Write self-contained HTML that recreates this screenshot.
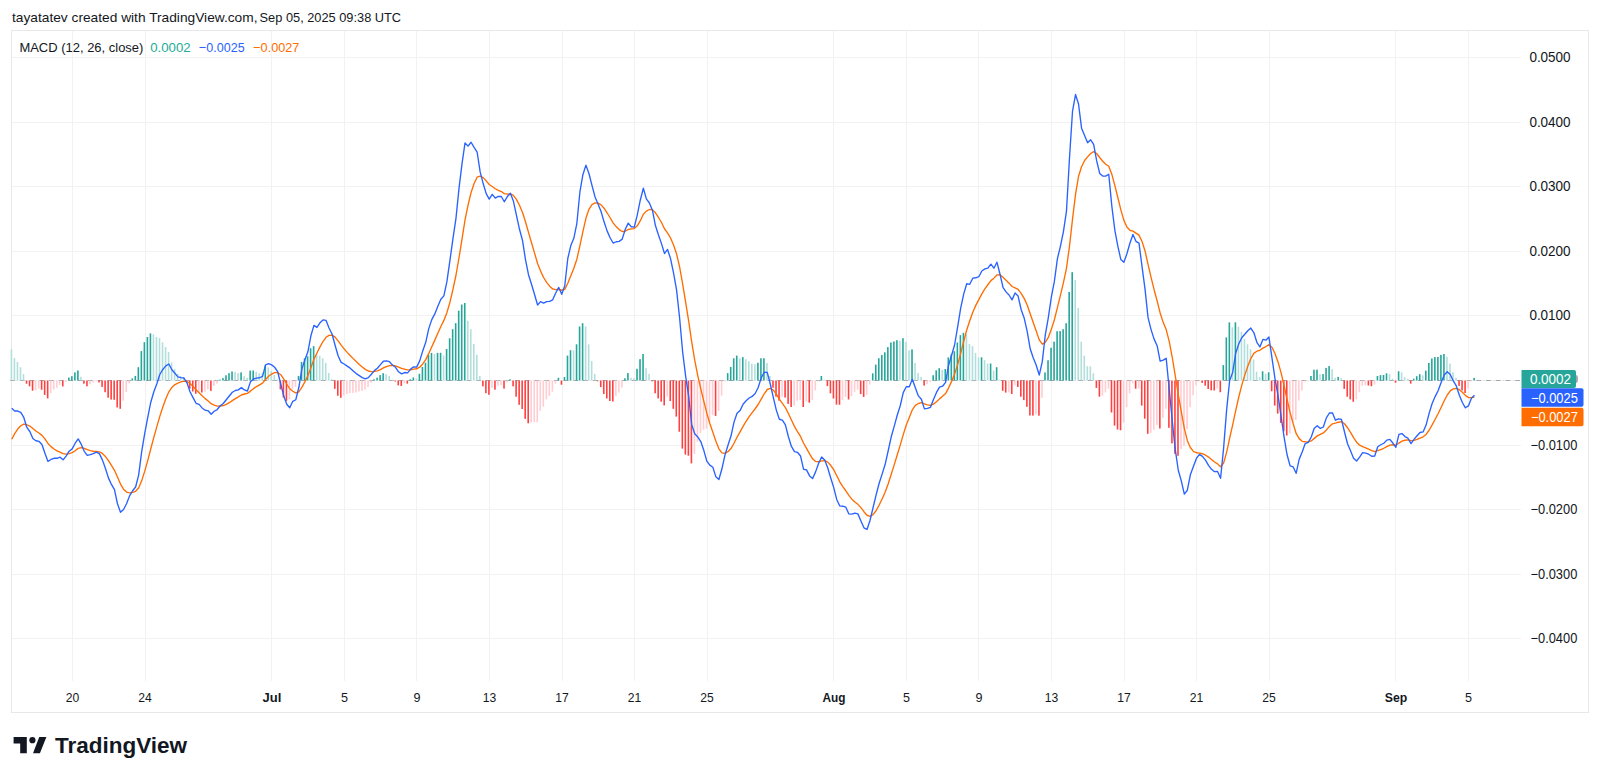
<!DOCTYPE html>
<html><head><meta charset="utf-8"><style>
html,body{margin:0;padding:0;background:#fff;width:1600px;height:779px;overflow:hidden}
svg{display:block;font-family:"Liberation Sans",sans-serif}
</style></head><body>
<svg width="1600" height="779" viewBox="0 0 1600 779">
<rect x="0" y="0" width="1600" height="779" fill="#ffffff"/>
<g font-size="13.3" fill="#131722"><text x="12" y="22" textLength="245.5" lengthAdjust="spacingAndGlyphs">tayatatev created with TradingView.com,</text><text x="259.6" y="22" textLength="141.5" lengthAdjust="spacingAndGlyphs">Sep 05, 2025 09:38 UTC</text></g>
<g stroke="#f2f2f2" stroke-width="1"><line x1="11" y1="57.5" x2="1521" y2="57.5"/><line x1="11" y1="122.5" x2="1521" y2="122.5"/><line x1="11" y1="186.5" x2="1521" y2="186.5"/><line x1="11" y1="251.5" x2="1521" y2="251.5"/><line x1="11" y1="315.5" x2="1521" y2="315.5"/><line x1="11" y1="380.5" x2="1521" y2="380.5"/><line x1="11" y1="445.5" x2="1521" y2="445.5"/><line x1="11" y1="509.5" x2="1521" y2="509.5"/><line x1="11" y1="574.5" x2="1521" y2="574.5"/><line x1="11" y1="638.5" x2="1521" y2="638.5"/><line x1="72.5" y1="30" x2="72.5" y2="681"/><line x1="145.5" y1="30" x2="145.5" y2="681"/><line x1="271.5" y1="30" x2="271.5" y2="681"/><line x1="344.5" y1="30" x2="344.5" y2="681"/><line x1="416.5" y1="30" x2="416.5" y2="681"/><line x1="489.5" y1="30" x2="489.5" y2="681"/><line x1="562.5" y1="30" x2="562.5" y2="681"/><line x1="634.5" y1="30" x2="634.5" y2="681"/><line x1="707.5" y1="30" x2="707.5" y2="681"/><line x1="833.5" y1="30" x2="833.5" y2="681"/><line x1="906.5" y1="30" x2="906.5" y2="681"/><line x1="978.5" y1="30" x2="978.5" y2="681"/><line x1="1051.5" y1="30" x2="1051.5" y2="681"/><line x1="1124.5" y1="30" x2="1124.5" y2="681"/><line x1="1196.5" y1="30" x2="1196.5" y2="681"/><line x1="1269.5" y1="30" x2="1269.5" y2="681"/><line x1="1395.5" y1="30" x2="1395.5" y2="681"/><line x1="1468.5" y1="30" x2="1468.5" y2="681"/></g>
<rect x="11.5" y="30.5" width="1577" height="682" fill="none" stroke="#e8e8e8" stroke-width="1"/>
<line x1="10.2" y1="380.5" x2="1521" y2="380.5" stroke="#a3a6ad" stroke-width="1" stroke-dasharray="4.7 5.01"/>
<g><rect x="10.61" y="349.40" width="1.6" height="31.10" fill="#b2dfdb"/><rect x="13.63" y="358.10" width="1.6" height="22.40" fill="#b2dfdb"/><rect x="16.65" y="362.00" width="1.6" height="18.50" fill="#b2dfdb"/><rect x="19.67" y="367.20" width="1.6" height="13.30" fill="#b2dfdb"/><rect x="22.69" y="374.10" width="1.6" height="6.40" fill="#b2dfdb"/><rect x="25.72" y="380.50" width="1.6" height="3.20" fill="#ff4040"/><rect x="28.74" y="380.50" width="1.6" height="5.80" fill="#ff4040"/><rect x="31.76" y="380.50" width="1.6" height="10.20" fill="#ff4040"/><rect x="34.78" y="380.50" width="1.6" height="10.00" fill="#ffcdd2"/><rect x="37.81" y="380.50" width="1.6" height="8.10" fill="#ffcdd2"/><rect x="40.83" y="380.50" width="1.6" height="9.20" fill="#ff4040"/><rect x="43.85" y="380.50" width="1.6" height="14.40" fill="#ff4040"/><rect x="46.87" y="380.50" width="1.6" height="17.90" fill="#ff4040"/><rect x="49.89" y="380.50" width="1.6" height="12.50" fill="#ffcdd2"/><rect x="52.92" y="380.50" width="1.6" height="9.00" fill="#ffcdd2"/><rect x="55.94" y="380.50" width="1.6" height="7.30" fill="#ffcdd2"/><rect x="58.96" y="380.50" width="1.6" height="4.40" fill="#ffcdd2"/><rect x="61.98" y="380.50" width="1.6" height="5.90" fill="#ff4040"/><rect x="65.01" y="380.50" width="1.6" height="1.50" fill="#ffcdd2"/><rect x="68.03" y="377.60" width="1.6" height="2.90" fill="#26a69a"/><rect x="71.05" y="376.20" width="1.6" height="4.30" fill="#26a69a"/><rect x="74.07" y="372.40" width="1.6" height="8.10" fill="#26a69a"/><rect x="77.09" y="370.50" width="1.6" height="10.00" fill="#26a69a"/><rect x="80.12" y="376.80" width="1.6" height="3.70" fill="#b2dfdb"/><rect x="83.14" y="380.50" width="1.6" height="3.20" fill="#ff4040"/><rect x="86.16" y="380.50" width="1.6" height="5.80" fill="#ff4040"/><rect x="89.18" y="380.50" width="1.6" height="3.80" fill="#ffcdd2"/><rect x="92.21" y="380.50" width="1.6" height="2.10" fill="#ffcdd2"/><rect x="95.23" y="380.50" width="1.6" height="0.80" fill="#ffcdd2"/><rect x="98.25" y="380.50" width="1.6" height="2.00" fill="#ff4040"/><rect x="101.27" y="380.50" width="1.6" height="6.40" fill="#ff4040"/><rect x="104.29" y="380.50" width="1.6" height="11.70" fill="#ff4040"/><rect x="107.32" y="380.50" width="1.6" height="17.20" fill="#ff4040"/><rect x="110.34" y="380.50" width="1.6" height="19.10" fill="#ff4040"/><rect x="113.36" y="380.50" width="1.6" height="19.30" fill="#ff4040"/><rect x="116.38" y="380.50" width="1.6" height="26.90" fill="#ff4040"/><rect x="119.41" y="380.50" width="1.6" height="28.30" fill="#ff4040"/><rect x="122.43" y="380.50" width="1.6" height="20.20" fill="#ffcdd2"/><rect x="125.45" y="380.50" width="1.6" height="11.50" fill="#ffcdd2"/><rect x="128.47" y="380.50" width="1.6" height="2.90" fill="#ffcdd2"/><rect x="131.49" y="378.40" width="1.6" height="2.10" fill="#26a69a"/><rect x="134.52" y="375.90" width="1.6" height="4.60" fill="#26a69a"/><rect x="137.54" y="367.20" width="1.6" height="13.30" fill="#26a69a"/><rect x="140.56" y="351.10" width="1.6" height="29.40" fill="#26a69a"/><rect x="143.58" y="342.20" width="1.6" height="38.30" fill="#26a69a"/><rect x="146.60" y="337.00" width="1.6" height="43.50" fill="#26a69a"/><rect x="149.63" y="333.40" width="1.6" height="47.10" fill="#26a69a"/><rect x="152.65" y="334.30" width="1.6" height="46.20" fill="#b2dfdb"/><rect x="155.67" y="337.00" width="1.6" height="43.50" fill="#b2dfdb"/><rect x="158.69" y="338.10" width="1.6" height="42.40" fill="#b2dfdb"/><rect x="161.72" y="342.40" width="1.6" height="38.10" fill="#b2dfdb"/><rect x="164.74" y="347.00" width="1.6" height="33.50" fill="#b2dfdb"/><rect x="167.76" y="352.00" width="1.6" height="28.50" fill="#b2dfdb"/><rect x="170.78" y="362.60" width="1.6" height="17.90" fill="#b2dfdb"/><rect x="173.80" y="369.00" width="1.6" height="11.50" fill="#b2dfdb"/><rect x="176.83" y="374.10" width="1.6" height="6.40" fill="#b2dfdb"/><rect x="179.85" y="376.20" width="1.6" height="4.30" fill="#b2dfdb"/><rect x="182.87" y="377.00" width="1.6" height="3.50" fill="#b2dfdb"/><rect x="185.89" y="380.50" width="1.6" height="1.00" fill="#ff4040"/><rect x="188.92" y="380.50" width="1.6" height="8.10" fill="#ff4040"/><rect x="191.94" y="380.50" width="1.6" height="11.00" fill="#ff4040"/><rect x="194.96" y="380.50" width="1.6" height="13.30" fill="#ff4040"/><rect x="197.98" y="380.50" width="1.6" height="11.20" fill="#ffcdd2"/><rect x="201.00" y="380.50" width="1.6" height="12.00" fill="#ff4040"/><rect x="204.03" y="380.50" width="1.6" height="11.20" fill="#ffcdd2"/><rect x="207.05" y="380.50" width="1.6" height="8.90" fill="#ffcdd2"/><rect x="210.07" y="380.50" width="1.6" height="10.40" fill="#ff4040"/><rect x="213.09" y="380.50" width="1.6" height="5.40" fill="#ffcdd2"/><rect x="216.12" y="380.50" width="1.6" height="3.10" fill="#ffcdd2"/><rect x="219.14" y="379.60" width="1.6" height="0.90" fill="#26a69a"/><rect x="222.16" y="378.10" width="1.6" height="2.40" fill="#26a69a"/><rect x="225.18" y="375.30" width="1.6" height="5.20" fill="#26a69a"/><rect x="228.20" y="373.20" width="1.6" height="7.30" fill="#26a69a"/><rect x="231.23" y="371.50" width="1.6" height="9.00" fill="#26a69a"/><rect x="234.25" y="371.80" width="1.6" height="8.70" fill="#b2dfdb"/><rect x="237.27" y="373.20" width="1.6" height="7.30" fill="#b2dfdb"/><rect x="240.29" y="372.40" width="1.6" height="8.10" fill="#26a69a"/><rect x="243.32" y="376.10" width="1.6" height="4.40" fill="#b2dfdb"/><rect x="246.34" y="377.80" width="1.6" height="2.70" fill="#b2dfdb"/><rect x="249.36" y="370.60" width="1.6" height="9.90" fill="#26a69a"/><rect x="252.38" y="370.50" width="1.6" height="10.00" fill="#26a69a"/><rect x="255.40" y="371.80" width="1.6" height="8.70" fill="#b2dfdb"/><rect x="258.43" y="373.20" width="1.6" height="7.30" fill="#b2dfdb"/><rect x="261.45" y="373.30" width="1.6" height="7.20" fill="#b2dfdb"/><rect x="264.47" y="365.50" width="1.6" height="15.00" fill="#26a69a"/><rect x="267.49" y="367.50" width="1.6" height="13.00" fill="#b2dfdb"/><rect x="270.52" y="370.90" width="1.6" height="9.60" fill="#b2dfdb"/><rect x="273.54" y="375.00" width="1.6" height="5.50" fill="#b2dfdb"/><rect x="276.56" y="379.50" width="1.6" height="1.00" fill="#b2dfdb"/><rect x="279.58" y="380.50" width="1.6" height="8.90" fill="#ff4040"/><rect x="282.60" y="380.50" width="1.6" height="17.00" fill="#ff4040"/><rect x="285.63" y="380.50" width="1.6" height="20.40" fill="#ff4040"/><rect x="288.65" y="380.50" width="1.6" height="19.00" fill="#ffcdd2"/><rect x="291.67" y="380.50" width="1.6" height="8.70" fill="#ffcdd2"/><rect x="294.69" y="380.50" width="1.6" height="6.40" fill="#ffcdd2"/><rect x="297.71" y="375.90" width="1.6" height="4.60" fill="#26a69a"/><rect x="300.74" y="362.00" width="1.6" height="18.50" fill="#26a69a"/><rect x="303.76" y="358.30" width="1.6" height="22.20" fill="#26a69a"/><rect x="306.78" y="356.30" width="1.6" height="24.20" fill="#26a69a"/><rect x="309.80" y="348.20" width="1.6" height="32.30" fill="#26a69a"/><rect x="312.83" y="346.10" width="1.6" height="34.40" fill="#26a69a"/><rect x="315.85" y="355.30" width="1.6" height="25.20" fill="#b2dfdb"/><rect x="318.87" y="355.70" width="1.6" height="24.80" fill="#b2dfdb"/><rect x="321.89" y="358.30" width="1.6" height="22.20" fill="#b2dfdb"/><rect x="324.91" y="362.90" width="1.6" height="17.60" fill="#b2dfdb"/><rect x="327.94" y="373.00" width="1.6" height="7.50" fill="#b2dfdb"/><rect x="330.96" y="379.30" width="1.6" height="1.20" fill="#b2dfdb"/><rect x="333.98" y="380.50" width="1.6" height="8.30" fill="#ff4040"/><rect x="337.00" y="380.50" width="1.6" height="15.20" fill="#ff4040"/><rect x="340.03" y="380.50" width="1.6" height="17.30" fill="#ff4040"/><rect x="343.05" y="380.50" width="1.6" height="15.00" fill="#ffcdd2"/><rect x="346.07" y="380.50" width="1.6" height="13.60" fill="#ffcdd2"/><rect x="349.09" y="380.50" width="1.6" height="12.50" fill="#ffcdd2"/><rect x="352.11" y="380.50" width="1.6" height="12.40" fill="#ffcdd2"/><rect x="355.14" y="380.50" width="1.6" height="12.00" fill="#ffcdd2"/><rect x="358.16" y="380.50" width="1.6" height="10.90" fill="#ffcdd2"/><rect x="361.18" y="380.50" width="1.6" height="10.40" fill="#ffcdd2"/><rect x="364.20" y="380.50" width="1.6" height="9.20" fill="#ffcdd2"/><rect x="367.23" y="380.50" width="1.6" height="6.40" fill="#ffcdd2"/><rect x="370.25" y="380.50" width="1.6" height="2.30" fill="#ffcdd2"/><rect x="373.27" y="379.30" width="1.6" height="1.20" fill="#26a69a"/><rect x="376.29" y="377.70" width="1.6" height="2.80" fill="#26a69a"/><rect x="379.31" y="375.10" width="1.6" height="5.40" fill="#26a69a"/><rect x="382.34" y="373.20" width="1.6" height="7.30" fill="#26a69a"/><rect x="385.36" y="374.20" width="1.6" height="6.30" fill="#b2dfdb"/><rect x="388.38" y="376.00" width="1.6" height="4.50" fill="#b2dfdb"/><rect x="391.40" y="379.70" width="1.6" height="0.80" fill="#b2dfdb"/><rect x="394.43" y="380.50" width="1.6" height="1.00" fill="#ff4040"/><rect x="397.45" y="380.50" width="1.6" height="4.90" fill="#ff4040"/><rect x="400.47" y="380.50" width="1.6" height="5.50" fill="#ff4040"/><rect x="403.49" y="380.50" width="1.6" height="3.00" fill="#ffcdd2"/><rect x="406.51" y="380.50" width="1.6" height="3.20" fill="#ff4040"/><rect x="409.54" y="379.30" width="1.6" height="1.20" fill="#26a69a"/><rect x="412.56" y="377.40" width="1.6" height="3.10" fill="#26a69a"/><rect x="415.58" y="378.60" width="1.6" height="1.90" fill="#b2dfdb"/><rect x="418.60" y="373.80" width="1.6" height="6.70" fill="#26a69a"/><rect x="421.63" y="367.00" width="1.6" height="13.50" fill="#26a69a"/><rect x="424.65" y="362.70" width="1.6" height="17.80" fill="#26a69a"/><rect x="427.67" y="355.00" width="1.6" height="25.50" fill="#26a69a"/><rect x="430.69" y="352.90" width="1.6" height="27.60" fill="#26a69a"/><rect x="433.71" y="353.90" width="1.6" height="26.60" fill="#b2dfdb"/><rect x="436.74" y="352.90" width="1.6" height="27.60" fill="#26a69a"/><rect x="439.76" y="352.80" width="1.6" height="27.70" fill="#26a69a"/><rect x="442.78" y="355.50" width="1.6" height="25.00" fill="#b2dfdb"/><rect x="445.80" y="349.00" width="1.6" height="31.50" fill="#26a69a"/><rect x="448.82" y="338.30" width="1.6" height="42.20" fill="#26a69a"/><rect x="451.85" y="329.20" width="1.6" height="51.30" fill="#26a69a"/><rect x="454.87" y="323.20" width="1.6" height="57.30" fill="#26a69a"/><rect x="457.89" y="310.70" width="1.6" height="69.80" fill="#26a69a"/><rect x="460.91" y="304.50" width="1.6" height="76.00" fill="#26a69a"/><rect x="463.94" y="303.00" width="1.6" height="77.50" fill="#26a69a"/><rect x="466.96" y="320.80" width="1.6" height="59.70" fill="#b2dfdb"/><rect x="469.98" y="329.20" width="1.6" height="51.30" fill="#b2dfdb"/><rect x="473.00" y="343.90" width="1.6" height="36.60" fill="#b2dfdb"/><rect x="476.02" y="354.80" width="1.6" height="25.70" fill="#b2dfdb"/><rect x="479.05" y="376.00" width="1.6" height="4.50" fill="#b2dfdb"/><rect x="482.07" y="380.50" width="1.6" height="5.80" fill="#ff4040"/><rect x="485.09" y="380.50" width="1.6" height="12.70" fill="#ff4040"/><rect x="488.11" y="380.50" width="1.6" height="14.30" fill="#ff4040"/><rect x="491.14" y="380.50" width="1.6" height="7.30" fill="#ffcdd2"/><rect x="494.16" y="380.50" width="1.6" height="9.20" fill="#ff4040"/><rect x="497.18" y="380.50" width="1.6" height="5.40" fill="#ffcdd2"/><rect x="500.20" y="380.50" width="1.6" height="4.60" fill="#ffcdd2"/><rect x="503.22" y="380.50" width="1.6" height="8.10" fill="#ff4040"/><rect x="506.25" y="380.50" width="1.6" height="1.90" fill="#ffcdd2"/><rect x="509.27" y="379.30" width="1.6" height="1.20" fill="#26a69a"/><rect x="512.29" y="380.50" width="1.6" height="5.80" fill="#ff4040"/><rect x="515.31" y="380.50" width="1.6" height="16.20" fill="#ff4040"/><rect x="518.34" y="380.50" width="1.6" height="24.30" fill="#ff4040"/><rect x="521.36" y="380.50" width="1.6" height="28.50" fill="#ff4040"/><rect x="524.38" y="380.50" width="1.6" height="38.30" fill="#ff4040"/><rect x="527.40" y="380.50" width="1.6" height="42.80" fill="#ff4040"/><rect x="530.42" y="380.50" width="1.6" height="42.00" fill="#ffcdd2"/><rect x="533.45" y="380.50" width="1.6" height="41.80" fill="#ffcdd2"/><rect x="536.47" y="380.50" width="1.6" height="41.70" fill="#ffcdd2"/><rect x="539.49" y="380.50" width="1.6" height="30.30" fill="#ffcdd2"/><rect x="542.51" y="380.50" width="1.6" height="26.20" fill="#ffcdd2"/><rect x="545.54" y="380.50" width="1.6" height="18.90" fill="#ffcdd2"/><rect x="548.56" y="380.50" width="1.6" height="15.40" fill="#ffcdd2"/><rect x="551.58" y="380.50" width="1.6" height="11.20" fill="#ffcdd2"/><rect x="554.60" y="380.50" width="1.6" height="3.10" fill="#ffcdd2"/><rect x="557.62" y="377.80" width="1.6" height="2.70" fill="#26a69a"/><rect x="560.65" y="380.50" width="1.6" height="4.20" fill="#ff4040"/><rect x="563.67" y="377.00" width="1.6" height="3.50" fill="#26a69a"/><rect x="566.69" y="355.60" width="1.6" height="24.90" fill="#26a69a"/><rect x="569.71" y="350.20" width="1.6" height="30.30" fill="#26a69a"/><rect x="572.74" y="350.30" width="1.6" height="30.20" fill="#b2dfdb"/><rect x="575.76" y="344.30" width="1.6" height="36.20" fill="#26a69a"/><rect x="578.78" y="326.50" width="1.6" height="54.00" fill="#26a69a"/><rect x="581.80" y="323.20" width="1.6" height="57.30" fill="#26a69a"/><rect x="584.82" y="326.50" width="1.6" height="54.00" fill="#b2dfdb"/><rect x="587.85" y="344.30" width="1.6" height="36.20" fill="#b2dfdb"/><rect x="590.87" y="361.10" width="1.6" height="19.40" fill="#b2dfdb"/><rect x="593.89" y="373.90" width="1.6" height="6.60" fill="#b2dfdb"/><rect x="596.91" y="380.50" width="1.6" height="0.80" fill="#ff4040"/><rect x="599.94" y="380.50" width="1.6" height="6.60" fill="#ff4040"/><rect x="602.96" y="380.50" width="1.6" height="13.60" fill="#ff4040"/><rect x="605.98" y="380.50" width="1.6" height="18.00" fill="#ff4040"/><rect x="609.00" y="380.50" width="1.6" height="20.50" fill="#ff4040"/><rect x="612.02" y="380.50" width="1.6" height="21.00" fill="#ff4040"/><rect x="615.05" y="380.50" width="1.6" height="15.30" fill="#ffcdd2"/><rect x="618.07" y="380.50" width="1.6" height="12.00" fill="#ffcdd2"/><rect x="621.09" y="380.50" width="1.6" height="7.10" fill="#ffcdd2"/><rect x="624.11" y="378.30" width="1.6" height="2.20" fill="#26a69a"/><rect x="627.13" y="373.10" width="1.6" height="7.40" fill="#26a69a"/><rect x="630.16" y="377.80" width="1.6" height="2.70" fill="#b2dfdb"/><rect x="633.18" y="378.30" width="1.6" height="2.20" fill="#b2dfdb"/><rect x="636.20" y="368.80" width="1.6" height="11.70" fill="#26a69a"/><rect x="639.22" y="359.20" width="1.6" height="21.30" fill="#26a69a"/><rect x="642.25" y="354.00" width="1.6" height="26.50" fill="#26a69a"/><rect x="645.27" y="368.20" width="1.6" height="12.30" fill="#b2dfdb"/><rect x="648.29" y="373.90" width="1.6" height="6.60" fill="#b2dfdb"/><rect x="651.31" y="380.50" width="1.6" height="0.80" fill="#ff4040"/><rect x="654.33" y="380.50" width="1.6" height="12.80" fill="#ff4040"/><rect x="657.36" y="380.50" width="1.6" height="17.90" fill="#ff4040"/><rect x="660.38" y="380.50" width="1.6" height="21.20" fill="#ff4040"/><rect x="663.40" y="380.50" width="1.6" height="24.90" fill="#ff4040"/><rect x="666.42" y="380.50" width="1.6" height="16.20" fill="#ffcdd2"/><rect x="669.45" y="380.50" width="1.6" height="20.60" fill="#ff4040"/><rect x="672.47" y="380.50" width="1.6" height="28.30" fill="#ff4040"/><rect x="675.49" y="380.50" width="1.6" height="36.10" fill="#ff4040"/><rect x="678.51" y="380.50" width="1.6" height="51.20" fill="#ff4040"/><rect x="681.53" y="380.50" width="1.6" height="68.10" fill="#ff4040"/><rect x="684.56" y="380.50" width="1.6" height="74.10" fill="#ff4040"/><rect x="687.58" y="380.50" width="1.6" height="75.20" fill="#ff4040"/><rect x="690.60" y="380.50" width="1.6" height="82.90" fill="#ff4040"/><rect x="693.62" y="380.50" width="1.6" height="73.50" fill="#ffcdd2"/><rect x="696.65" y="380.50" width="1.6" height="61.30" fill="#ffcdd2"/><rect x="699.67" y="380.50" width="1.6" height="52.60" fill="#ffcdd2"/><rect x="702.69" y="380.50" width="1.6" height="49.20" fill="#ffcdd2"/><rect x="705.71" y="380.50" width="1.6" height="48.10" fill="#ffcdd2"/><rect x="708.73" y="380.50" width="1.6" height="41.10" fill="#ffcdd2"/><rect x="711.76" y="380.50" width="1.6" height="34.40" fill="#ffcdd2"/><rect x="714.78" y="380.50" width="1.6" height="35.40" fill="#ff4040"/><rect x="717.80" y="380.50" width="1.6" height="30.30" fill="#ffcdd2"/><rect x="720.82" y="380.50" width="1.6" height="15.20" fill="#ffcdd2"/><rect x="723.85" y="380.50" width="1.6" height="1.00" fill="#ffcdd2"/><rect x="726.87" y="373.10" width="1.6" height="7.40" fill="#26a69a"/><rect x="729.89" y="367.00" width="1.6" height="13.50" fill="#26a69a"/><rect x="732.91" y="358.30" width="1.6" height="22.20" fill="#26a69a"/><rect x="735.93" y="355.60" width="1.6" height="24.90" fill="#26a69a"/><rect x="738.96" y="358.30" width="1.6" height="22.20" fill="#b2dfdb"/><rect x="741.98" y="357.10" width="1.6" height="23.40" fill="#26a69a"/><rect x="745.00" y="359.20" width="1.6" height="21.30" fill="#b2dfdb"/><rect x="748.02" y="361.20" width="1.6" height="19.30" fill="#b2dfdb"/><rect x="751.05" y="363.70" width="1.6" height="16.80" fill="#b2dfdb"/><rect x="754.07" y="364.30" width="1.6" height="16.20" fill="#b2dfdb"/><rect x="757.09" y="362.80" width="1.6" height="17.70" fill="#26a69a"/><rect x="760.11" y="358.30" width="1.6" height="22.20" fill="#26a69a"/><rect x="763.13" y="358.20" width="1.6" height="22.30" fill="#26a69a"/><rect x="766.16" y="363.00" width="1.6" height="17.50" fill="#b2dfdb"/><rect x="769.18" y="376.00" width="1.6" height="4.50" fill="#b2dfdb"/><rect x="772.20" y="380.50" width="1.6" height="7.20" fill="#ff4040"/><rect x="775.22" y="380.50" width="1.6" height="16.20" fill="#ff4040"/><rect x="778.24" y="380.50" width="1.6" height="20.20" fill="#ff4040"/><rect x="781.27" y="380.50" width="1.6" height="16.20" fill="#ffcdd2"/><rect x="784.29" y="380.50" width="1.6" height="17.10" fill="#ff4040"/><rect x="787.31" y="380.50" width="1.6" height="23.40" fill="#ff4040"/><rect x="790.33" y="380.50" width="1.6" height="26.50" fill="#ff4040"/><rect x="793.36" y="380.50" width="1.6" height="25.20" fill="#ffcdd2"/><rect x="796.38" y="380.50" width="1.6" height="20.20" fill="#ffcdd2"/><rect x="799.40" y="380.50" width="1.6" height="19.50" fill="#ffcdd2"/><rect x="802.42" y="380.50" width="1.6" height="26.50" fill="#ff4040"/><rect x="805.44" y="380.50" width="1.6" height="21.10" fill="#ffcdd2"/><rect x="808.47" y="380.50" width="1.6" height="22.20" fill="#ff4040"/><rect x="811.49" y="380.50" width="1.6" height="19.50" fill="#ffcdd2"/><rect x="814.51" y="380.50" width="1.6" height="9.90" fill="#ffcdd2"/><rect x="817.53" y="380.50" width="1.6" height="0.80" fill="#ffcdd2"/><rect x="820.56" y="376.00" width="1.6" height="4.50" fill="#26a69a"/><rect x="823.58" y="379.70" width="1.6" height="0.80" fill="#b2dfdb"/><rect x="826.60" y="380.50" width="1.6" height="5.60" fill="#ff4040"/><rect x="829.62" y="380.50" width="1.6" height="12.80" fill="#ff4040"/><rect x="832.64" y="380.50" width="1.6" height="18.00" fill="#ff4040"/><rect x="835.67" y="380.50" width="1.6" height="24.10" fill="#ff4040"/><rect x="838.69" y="380.50" width="1.6" height="24.30" fill="#ff4040"/><rect x="841.71" y="380.50" width="1.6" height="19.50" fill="#ffcdd2"/><rect x="844.73" y="380.50" width="1.6" height="16.40" fill="#ffcdd2"/><rect x="847.76" y="380.50" width="1.6" height="19.00" fill="#ff4040"/><rect x="850.78" y="380.50" width="1.6" height="15.40" fill="#ffcdd2"/><rect x="853.80" y="380.50" width="1.6" height="11.30" fill="#ffcdd2"/><rect x="856.82" y="380.50" width="1.6" height="9.20" fill="#ffcdd2"/><rect x="859.84" y="380.50" width="1.6" height="13.60" fill="#ff4040"/><rect x="862.87" y="380.50" width="1.6" height="16.40" fill="#ff4040"/><rect x="865.89" y="380.50" width="1.6" height="14.40" fill="#ffcdd2"/><rect x="868.91" y="380.50" width="1.6" height="4.10" fill="#ffcdd2"/><rect x="871.93" y="373.30" width="1.6" height="7.20" fill="#26a69a"/><rect x="874.96" y="364.60" width="1.6" height="15.90" fill="#26a69a"/><rect x="877.98" y="358.20" width="1.6" height="22.30" fill="#26a69a"/><rect x="881.00" y="355.00" width="1.6" height="25.50" fill="#26a69a"/><rect x="884.02" y="352.30" width="1.6" height="28.20" fill="#26a69a"/><rect x="887.04" y="347.10" width="1.6" height="33.40" fill="#26a69a"/><rect x="890.07" y="342.50" width="1.6" height="38.00" fill="#26a69a"/><rect x="893.09" y="341.50" width="1.6" height="39.00" fill="#26a69a"/><rect x="896.11" y="340.20" width="1.6" height="40.30" fill="#26a69a"/><rect x="899.13" y="340.80" width="1.6" height="39.70" fill="#b2dfdb"/><rect x="902.16" y="338.20" width="1.6" height="42.30" fill="#26a69a"/><rect x="905.18" y="341.80" width="1.6" height="38.70" fill="#b2dfdb"/><rect x="908.20" y="350.50" width="1.6" height="30.00" fill="#b2dfdb"/><rect x="911.22" y="349.40" width="1.6" height="31.10" fill="#26a69a"/><rect x="914.24" y="363.00" width="1.6" height="17.50" fill="#b2dfdb"/><rect x="917.27" y="373.10" width="1.6" height="7.40" fill="#b2dfdb"/><rect x="920.29" y="376.90" width="1.6" height="3.60" fill="#b2dfdb"/><rect x="923.31" y="380.50" width="1.6" height="5.10" fill="#ff4040"/><rect x="926.33" y="380.50" width="1.6" height="3.60" fill="#ffcdd2"/><rect x="929.35" y="380.50" width="1.6" height="1.50" fill="#ffcdd2"/><rect x="932.38" y="375.20" width="1.6" height="5.30" fill="#26a69a"/><rect x="935.40" y="370.40" width="1.6" height="10.10" fill="#26a69a"/><rect x="938.42" y="368.20" width="1.6" height="12.30" fill="#26a69a"/><rect x="941.44" y="369.90" width="1.6" height="10.60" fill="#b2dfdb"/><rect x="944.47" y="369.00" width="1.6" height="11.50" fill="#26a69a"/><rect x="947.49" y="357.40" width="1.6" height="23.10" fill="#26a69a"/><rect x="950.51" y="354.30" width="1.6" height="26.20" fill="#26a69a"/><rect x="953.53" y="351.20" width="1.6" height="29.30" fill="#26a69a"/><rect x="956.55" y="342.50" width="1.6" height="38.00" fill="#26a69a"/><rect x="959.58" y="335.10" width="1.6" height="45.40" fill="#26a69a"/><rect x="962.60" y="332.80" width="1.6" height="47.70" fill="#26a69a"/><rect x="965.62" y="334.10" width="1.6" height="46.40" fill="#b2dfdb"/><rect x="968.64" y="344.10" width="1.6" height="36.40" fill="#b2dfdb"/><rect x="971.67" y="346.10" width="1.6" height="34.40" fill="#b2dfdb"/><rect x="974.69" y="353.00" width="1.6" height="27.50" fill="#b2dfdb"/><rect x="977.71" y="357.40" width="1.6" height="23.10" fill="#b2dfdb"/><rect x="980.73" y="357.30" width="1.6" height="23.20" fill="#26a69a"/><rect x="983.75" y="360.20" width="1.6" height="20.30" fill="#b2dfdb"/><rect x="986.78" y="363.60" width="1.6" height="16.90" fill="#b2dfdb"/><rect x="989.80" y="363.50" width="1.6" height="17.00" fill="#26a69a"/><rect x="992.82" y="370.70" width="1.6" height="9.80" fill="#b2dfdb"/><rect x="995.84" y="367.20" width="1.6" height="13.30" fill="#26a69a"/><rect x="998.87" y="379.70" width="1.6" height="0.80" fill="#b2dfdb"/><rect x="1001.89" y="380.50" width="1.6" height="10.30" fill="#ff4040"/><rect x="1004.91" y="380.50" width="1.6" height="12.10" fill="#ff4040"/><rect x="1007.93" y="380.50" width="1.6" height="11.90" fill="#ffcdd2"/><rect x="1010.95" y="380.50" width="1.6" height="13.50" fill="#ff4040"/><rect x="1013.98" y="380.50" width="1.6" height="4.80" fill="#ffcdd2"/><rect x="1017.00" y="380.50" width="1.6" height="6.40" fill="#ff4040"/><rect x="1020.02" y="380.50" width="1.6" height="16.20" fill="#ff4040"/><rect x="1023.04" y="380.50" width="1.6" height="19.60" fill="#ff4040"/><rect x="1026.07" y="380.50" width="1.6" height="26.30" fill="#ff4040"/><rect x="1029.09" y="380.50" width="1.6" height="35.00" fill="#ff4040"/><rect x="1032.11" y="380.50" width="1.6" height="35.10" fill="#ff4040"/><rect x="1035.13" y="380.50" width="1.6" height="34.00" fill="#ffcdd2"/><rect x="1038.15" y="380.50" width="1.6" height="35.20" fill="#ff4040"/><rect x="1041.18" y="380.50" width="1.6" height="17.30" fill="#ffcdd2"/><rect x="1044.20" y="372.50" width="1.6" height="8.00" fill="#26a69a"/><rect x="1047.22" y="360.20" width="1.6" height="20.30" fill="#26a69a"/><rect x="1050.24" y="347.70" width="1.6" height="32.80" fill="#26a69a"/><rect x="1053.27" y="341.70" width="1.6" height="38.80" fill="#26a69a"/><rect x="1056.29" y="331.20" width="1.6" height="49.30" fill="#26a69a"/><rect x="1059.31" y="331.10" width="1.6" height="49.40" fill="#26a69a"/><rect x="1062.33" y="329.20" width="1.6" height="51.30" fill="#26a69a"/><rect x="1065.35" y="323.20" width="1.6" height="57.30" fill="#26a69a"/><rect x="1068.38" y="292.00" width="1.6" height="88.50" fill="#26a69a"/><rect x="1071.40" y="272.20" width="1.6" height="108.30" fill="#26a69a"/><rect x="1074.42" y="280.10" width="1.6" height="100.40" fill="#b2dfdb"/><rect x="1077.44" y="307.90" width="1.6" height="72.60" fill="#b2dfdb"/><rect x="1080.46" y="341.70" width="1.6" height="38.80" fill="#b2dfdb"/><rect x="1083.49" y="355.60" width="1.6" height="24.90" fill="#b2dfdb"/><rect x="1086.51" y="366.20" width="1.6" height="14.30" fill="#b2dfdb"/><rect x="1089.53" y="366.30" width="1.6" height="14.20" fill="#b2dfdb"/><rect x="1092.55" y="373.30" width="1.6" height="7.20" fill="#b2dfdb"/><rect x="1095.58" y="380.50" width="1.6" height="7.40" fill="#ff4040"/><rect x="1098.60" y="380.50" width="1.6" height="16.20" fill="#ff4040"/><rect x="1101.62" y="380.50" width="1.6" height="15.10" fill="#ffcdd2"/><rect x="1104.64" y="380.50" width="1.6" height="12.00" fill="#ffcdd2"/><rect x="1107.66" y="380.50" width="1.6" height="8.20" fill="#ffcdd2"/><rect x="1110.69" y="380.50" width="1.6" height="32.00" fill="#ff4040"/><rect x="1113.71" y="380.50" width="1.6" height="45.10" fill="#ff4040"/><rect x="1116.73" y="380.50" width="1.6" height="49.00" fill="#ff4040"/><rect x="1119.75" y="380.50" width="1.6" height="49.80" fill="#ff4040"/><rect x="1122.78" y="380.50" width="1.6" height="42.10" fill="#ffcdd2"/><rect x="1125.80" y="380.50" width="1.6" height="26.70" fill="#ffcdd2"/><rect x="1128.82" y="380.50" width="1.6" height="12.80" fill="#ffcdd2"/><rect x="1131.84" y="380.50" width="1.6" height="2.80" fill="#ffcdd2"/><rect x="1134.86" y="380.50" width="1.6" height="8.20" fill="#ff4040"/><rect x="1137.89" y="380.50" width="1.6" height="7.90" fill="#ffcdd2"/><rect x="1140.91" y="380.50" width="1.6" height="25.10" fill="#ff4040"/><rect x="1143.93" y="380.50" width="1.6" height="38.20" fill="#ff4040"/><rect x="1146.95" y="380.50" width="1.6" height="53.30" fill="#ff4040"/><rect x="1149.98" y="380.50" width="1.6" height="52.30" fill="#ffcdd2"/><rect x="1153.00" y="380.50" width="1.6" height="49.40" fill="#ffcdd2"/><rect x="1156.02" y="380.50" width="1.6" height="44.50" fill="#ffcdd2"/><rect x="1159.04" y="380.50" width="1.6" height="48.00" fill="#ff4040"/><rect x="1162.06" y="380.50" width="1.6" height="37.40" fill="#ffcdd2"/><rect x="1165.09" y="380.50" width="1.6" height="28.20" fill="#ffcdd2"/><rect x="1168.11" y="380.50" width="1.6" height="47.30" fill="#ff4040"/><rect x="1171.13" y="380.50" width="1.6" height="62.90" fill="#ff4040"/><rect x="1174.15" y="380.50" width="1.6" height="73.40" fill="#ff4040"/><rect x="1177.18" y="380.50" width="1.6" height="75.30" fill="#ff4040"/><rect x="1180.20" y="380.50" width="1.6" height="68.50" fill="#ffcdd2"/><rect x="1183.22" y="380.50" width="1.6" height="65.40" fill="#ffcdd2"/><rect x="1186.24" y="380.50" width="1.6" height="48.70" fill="#ffcdd2"/><rect x="1189.26" y="380.50" width="1.6" height="26.80" fill="#ffcdd2"/><rect x="1192.29" y="380.50" width="1.6" height="14.80" fill="#ffcdd2"/><rect x="1195.31" y="380.50" width="1.6" height="4.90" fill="#ffcdd2"/><rect x="1198.33" y="380.50" width="1.6" height="0.80" fill="#ffcdd2"/><rect x="1201.35" y="380.50" width="1.6" height="2.40" fill="#ff4040"/><rect x="1204.38" y="380.50" width="1.6" height="5.20" fill="#ff4040"/><rect x="1207.40" y="380.50" width="1.6" height="8.50" fill="#ff4040"/><rect x="1210.42" y="380.50" width="1.6" height="9.90" fill="#ff4040"/><rect x="1213.44" y="380.50" width="1.6" height="9.95" fill="#ff4040"/><rect x="1216.46" y="380.50" width="1.6" height="8.00" fill="#ffcdd2"/><rect x="1219.49" y="380.50" width="1.6" height="11.70" fill="#ff4040"/><rect x="1222.51" y="365.10" width="1.6" height="15.40" fill="#26a69a"/><rect x="1225.53" y="337.40" width="1.6" height="43.10" fill="#26a69a"/><rect x="1228.55" y="322.40" width="1.6" height="58.10" fill="#26a69a"/><rect x="1231.57" y="327.30" width="1.6" height="53.20" fill="#b2dfdb"/><rect x="1234.60" y="322.30" width="1.6" height="58.20" fill="#26a69a"/><rect x="1237.62" y="326.60" width="1.6" height="53.90" fill="#b2dfdb"/><rect x="1240.64" y="332.00" width="1.6" height="48.50" fill="#b2dfdb"/><rect x="1243.66" y="338.90" width="1.6" height="41.60" fill="#b2dfdb"/><rect x="1246.69" y="344.30" width="1.6" height="36.20" fill="#b2dfdb"/><rect x="1249.71" y="349.20" width="1.6" height="31.30" fill="#b2dfdb"/><rect x="1252.73" y="359.40" width="1.6" height="21.10" fill="#b2dfdb"/><rect x="1255.75" y="371.70" width="1.6" height="8.80" fill="#b2dfdb"/><rect x="1258.77" y="377.00" width="1.6" height="3.50" fill="#b2dfdb"/><rect x="1261.80" y="371.30" width="1.6" height="9.20" fill="#26a69a"/><rect x="1264.82" y="373.90" width="1.6" height="6.60" fill="#b2dfdb"/><rect x="1267.84" y="372.30" width="1.6" height="8.20" fill="#26a69a"/><rect x="1270.86" y="380.50" width="1.6" height="10.80" fill="#ff4040"/><rect x="1273.89" y="380.50" width="1.6" height="25.10" fill="#ff4040"/><rect x="1276.91" y="380.50" width="1.6" height="33.10" fill="#ff4040"/><rect x="1279.93" y="380.50" width="1.6" height="42.40" fill="#ff4040"/><rect x="1282.95" y="380.50" width="1.6" height="50.80" fill="#ff4040"/><rect x="1285.97" y="380.50" width="1.6" height="55.00" fill="#ff4040"/><rect x="1289.00" y="380.50" width="1.6" height="53.00" fill="#ffcdd2"/><rect x="1292.02" y="380.50" width="1.6" height="42.40" fill="#ffcdd2"/><rect x="1295.04" y="380.50" width="1.6" height="39.30" fill="#ffcdd2"/><rect x="1298.06" y="380.50" width="1.6" height="20.00" fill="#ffcdd2"/><rect x="1301.09" y="380.50" width="1.6" height="10.00" fill="#ffcdd2"/><rect x="1304.11" y="380.50" width="1.6" height="1.00" fill="#ffcdd2"/><rect x="1307.13" y="380.50" width="1.6" height="0.80" fill="#ffcdd2"/><rect x="1310.15" y="376.00" width="1.6" height="4.50" fill="#26a69a"/><rect x="1313.17" y="369.70" width="1.6" height="10.80" fill="#26a69a"/><rect x="1316.20" y="369.60" width="1.6" height="10.90" fill="#26a69a"/><rect x="1319.22" y="374.20" width="1.6" height="6.30" fill="#b2dfdb"/><rect x="1322.24" y="374.10" width="1.6" height="6.40" fill="#26a69a"/><rect x="1325.26" y="367.90" width="1.6" height="12.60" fill="#26a69a"/><rect x="1328.29" y="366.10" width="1.6" height="14.40" fill="#26a69a"/><rect x="1331.31" y="369.10" width="1.6" height="11.40" fill="#b2dfdb"/><rect x="1334.33" y="377.80" width="1.6" height="2.70" fill="#b2dfdb"/><rect x="1337.35" y="376.90" width="1.6" height="3.60" fill="#26a69a"/><rect x="1340.37" y="378.10" width="1.6" height="2.40" fill="#b2dfdb"/><rect x="1343.40" y="380.50" width="1.6" height="8.40" fill="#ff4040"/><rect x="1346.42" y="380.50" width="1.6" height="16.20" fill="#ff4040"/><rect x="1349.44" y="380.50" width="1.6" height="18.90" fill="#ff4040"/><rect x="1352.46" y="380.50" width="1.6" height="21.30" fill="#ff4040"/><rect x="1355.49" y="380.50" width="1.6" height="18.90" fill="#ffcdd2"/><rect x="1358.51" y="380.50" width="1.6" height="11.70" fill="#ffcdd2"/><rect x="1361.53" y="380.50" width="1.6" height="5.40" fill="#ffcdd2"/><rect x="1364.55" y="380.50" width="1.6" height="4.90" fill="#ffcdd2"/><rect x="1367.57" y="380.50" width="1.6" height="5.00" fill="#ff4040"/><rect x="1370.60" y="380.50" width="1.6" height="5.70" fill="#ff4040"/><rect x="1373.62" y="380.50" width="1.6" height="4.00" fill="#ffcdd2"/><rect x="1376.64" y="376.00" width="1.6" height="4.50" fill="#26a69a"/><rect x="1379.66" y="375.10" width="1.6" height="5.40" fill="#26a69a"/><rect x="1382.68" y="375.00" width="1.6" height="5.50" fill="#26a69a"/><rect x="1385.71" y="373.30" width="1.6" height="7.20" fill="#26a69a"/><rect x="1388.73" y="374.20" width="1.6" height="6.30" fill="#b2dfdb"/><rect x="1391.75" y="378.70" width="1.6" height="1.80" fill="#b2dfdb"/><rect x="1394.77" y="380.50" width="1.6" height="2.20" fill="#ff4040"/><rect x="1397.80" y="371.30" width="1.6" height="9.20" fill="#26a69a"/><rect x="1400.82" y="372.40" width="1.6" height="8.10" fill="#b2dfdb"/><rect x="1403.84" y="376.90" width="1.6" height="3.60" fill="#b2dfdb"/><rect x="1406.86" y="378.70" width="1.6" height="1.80" fill="#b2dfdb"/><rect x="1409.88" y="380.50" width="1.6" height="3.10" fill="#ff4040"/><rect x="1412.91" y="378.70" width="1.6" height="1.80" fill="#26a69a"/><rect x="1415.93" y="376.20" width="1.6" height="4.30" fill="#26a69a"/><rect x="1418.95" y="374.20" width="1.6" height="6.30" fill="#26a69a"/><rect x="1421.97" y="375.30" width="1.6" height="5.20" fill="#b2dfdb"/><rect x="1425.00" y="370.60" width="1.6" height="9.90" fill="#26a69a"/><rect x="1428.02" y="363.00" width="1.6" height="17.50" fill="#26a69a"/><rect x="1431.04" y="358.50" width="1.6" height="22.00" fill="#26a69a"/><rect x="1434.06" y="357.10" width="1.6" height="23.40" fill="#26a69a"/><rect x="1437.08" y="357.00" width="1.6" height="23.50" fill="#26a69a"/><rect x="1440.11" y="354.90" width="1.6" height="25.60" fill="#26a69a"/><rect x="1443.13" y="354.00" width="1.6" height="26.50" fill="#26a69a"/><rect x="1446.15" y="356.70" width="1.6" height="23.80" fill="#b2dfdb"/><rect x="1449.17" y="363.60" width="1.6" height="16.90" fill="#b2dfdb"/><rect x="1452.20" y="372.20" width="1.6" height="8.30" fill="#b2dfdb"/><rect x="1455.22" y="377.80" width="1.6" height="2.70" fill="#b2dfdb"/><rect x="1458.24" y="380.50" width="1.6" height="5.40" fill="#ff4040"/><rect x="1461.26" y="380.50" width="1.6" height="9.90" fill="#ff4040"/><rect x="1464.28" y="380.50" width="1.6" height="12.60" fill="#ff4040"/><rect x="1467.31" y="380.50" width="1.6" height="8.10" fill="#ffcdd2"/><rect x="1470.33" y="380.50" width="1.6" height="0.80" fill="#ffcdd2"/><rect x="1473.35" y="377.90" width="1.6" height="2.60" fill="#26a69a"/></g>
<line x1="1483.6" y1="380.5" x2="1521" y2="380.5" stroke="#d6d7da" stroke-width="1" stroke-dasharray="1 8.75"/>
<path d="M11.71,439.20 L14.73,433.57 L17.75,429.06 L20.77,425.72 L23.79,424.07 L26.82,424.75 L29.84,426.10 L32.86,428.57 L35.88,431.01 L38.91,433.06 L41.93,435.35 L44.95,438.94 L47.97,443.43 L50.99,446.64 L54.02,448.97 L57.04,450.83 L60.06,452.10 L63.08,453.64 L66.11,454.13 L69.13,453.55 L72.15,452.61 L75.17,450.73 L78.19,448.37 L81.22,447.53 L84.24,448.29 L87.26,449.70 L90.28,450.69 L93.31,451.27 L96.33,451.42 L99.35,451.87 L102.37,453.47 L105.39,456.41 L108.42,460.70 L111.44,465.45 L114.46,470.30 L117.48,476.99 L120.51,484.05 L123.53,489.15 L126.55,492.06 L129.57,492.82 L132.59,492.41 L135.62,491.33 L138.64,488.08 L141.66,480.85 L144.68,471.41 L147.71,460.67 L150.73,449.03 L153.75,437.62 L156.77,426.88 L159.79,416.40 L162.82,407.02 L165.84,398.78 L168.86,391.82 L171.88,387.41 L174.90,384.58 L177.93,383.03 L180.95,381.95 L183.97,381.17 L186.99,381.50 L190.02,383.56 L193.04,386.38 L196.06,389.76 L199.08,392.69 L202.10,395.74 L205.13,398.62 L208.15,401.06 L211.17,403.71 L214.19,405.22 L217.22,406.08 L220.24,406.02 L223.26,405.52 L226.28,404.37 L229.30,402.70 L232.33,400.61 L235.35,398.58 L238.37,396.85 L241.39,395.00 L244.42,393.99 L247.44,393.40 L250.46,391.09 L253.48,388.67 L256.50,386.56 L259.53,384.80 L262.55,383.11 L265.57,379.46 L268.59,376.31 L271.62,374.03 L274.64,372.67 L277.66,372.48 L280.68,374.70 L283.70,378.93 L286.73,383.99 L289.75,388.75 L292.77,391.26 L295.79,392.96 L298.81,391.88 L301.84,387.32 L304.86,381.86 L307.88,375.86 L310.90,367.84 L313.93,359.35 L316.95,352.96 L319.97,346.92 L322.99,341.52 L326.01,337.27 L329.04,335.42 L332.06,335.13 L335.08,337.15 L338.10,340.88 L341.13,345.17 L344.15,348.94 L347.17,352.37 L350.19,355.52 L353.21,358.60 L356.24,361.60 L359.26,364.40 L362.28,367.03 L365.30,369.39 L368.33,371.03 L371.35,371.67 L374.37,371.46 L377.39,370.82 L380.41,369.59 L383.44,367.91 L386.46,366.52 L389.48,365.56 L392.50,365.46 L395.53,365.83 L398.55,367.02 L401.57,368.39 L404.59,369.22 L407.61,369.94 L410.64,369.77 L413.66,369.18 L416.68,368.78 L419.70,367.20 L422.73,363.94 L425.75,359.61 L428.77,353.41 L431.79,346.66 L434.81,340.11 L437.84,333.33 L440.86,326.52 L443.88,320.38 L446.90,312.64 L449.93,302.20 L452.95,289.47 L455.97,275.25 L458.99,257.93 L462.01,239.07 L465.04,219.84 L468.06,205.10 L471.08,192.53 L474.10,183.49 L477.12,177.20 L480.15,176.15 L483.17,177.63 L486.19,180.83 L489.21,184.48 L492.24,186.45 L495.26,188.77 L498.28,190.30 L501.30,191.54 L504.32,193.58 L507.35,194.18 L510.37,193.98 L513.39,195.39 L516.41,199.35 L519.44,205.28 L522.46,212.27 L525.48,221.73 L528.50,232.33 L531.52,242.71 L534.55,253.07 L537.57,263.45 L540.59,271.09 L543.61,277.49 L546.64,282.31 L549.66,286.13 L552.68,288.88 L555.70,289.70 L558.72,289.24 L561.75,290.26 L564.77,289.35 L567.79,283.18 L570.81,275.66 L573.84,268.18 L576.86,259.19 L579.88,245.80 L582.90,231.58 L585.92,218.29 L588.95,209.33 L591.97,204.53 L594.99,202.97 L598.01,203.18 L601.04,204.84 L604.06,208.24 L607.08,212.77 L610.10,217.76 L613.12,222.81 L616.15,226.60 L619.17,229.56 L622.19,231.48 L625.21,231.09 L628.23,229.50 L631.26,228.94 L634.28,228.59 L637.30,225.85 L640.32,220.67 L643.35,214.19 L646.37,211.13 L649.39,209.51 L652.41,209.64 L655.43,212.83 L658.46,217.26 L661.48,222.53 L664.50,228.73 L667.52,232.88 L670.55,238.02 L673.57,245.03 L676.59,254.05 L679.61,266.83 L682.63,283.82 L685.66,302.33 L688.68,321.12 L691.70,341.85 L694.72,360.22 L697.75,375.58 L700.77,388.77 L703.79,401.08 L706.81,413.10 L709.83,423.50 L712.86,432.26 L715.88,441.18 L718.90,448.85 L721.92,452.83 L724.95,453.29 L727.97,451.67 L730.99,448.55 L734.01,443.26 L737.03,437.26 L740.06,431.93 L743.08,426.38 L746.10,421.27 L749.12,416.61 L752.15,412.57 L755.17,408.75 L758.19,404.50 L761.21,399.17 L764.23,393.78 L767.26,389.50 L770.28,388.40 L773.30,390.19 L776.32,394.17 L779.34,399.19 L782.37,403.36 L785.39,407.67 L788.41,413.50 L791.43,420.09 L794.46,426.40 L797.48,431.58 L800.50,436.46 L803.52,443.01 L806.54,448.37 L809.57,453.88 L812.59,458.80 L815.61,461.41 L818.63,461.78 L821.66,460.83 L824.68,460.67 L827.70,462.09 L830.72,465.27 L833.74,469.75 L836.77,475.74 L839.79,481.78 L842.81,486.67 L845.83,490.77 L848.86,495.40 L851.88,499.15 L854.90,501.96 L857.92,504.34 L860.94,507.67 L863.97,511.70 L866.99,515.26 L870.01,516.31 L873.03,514.60 L876.06,510.72 L879.08,505.28 L882.10,499.05 L885.12,492.15 L888.14,483.92 L891.17,474.54 L894.19,464.92 L897.21,454.98 L900.23,445.13 L903.26,434.64 L906.28,425.05 L909.30,417.40 L912.32,409.77 L915.34,405.37 L918.37,403.48 L921.39,402.64 L924.41,403.89 L927.43,404.80 L930.45,405.29 L933.48,404.13 L936.50,401.79 L939.52,398.87 L942.54,396.34 L945.57,393.56 L948.59,387.89 L951.61,381.37 L954.63,374.04 L957.65,364.60 L960.68,353.31 L963.70,341.47 L966.72,329.93 L969.74,320.81 L972.77,312.28 L975.79,305.38 L978.81,299.65 L981.83,293.92 L984.85,288.92 L987.88,284.76 L990.90,280.64 L993.92,278.15 L996.94,274.95 L999.97,274.77 L1002.99,277.27 L1006.01,280.19 L1009.03,283.15 L1012.05,286.50 L1015.08,287.79 L1018.10,289.44 L1021.12,293.45 L1024.14,298.35 L1027.17,304.95 L1030.19,313.72 L1033.21,322.51 L1036.23,331.07 L1039.25,339.86 L1042.28,344.23 L1045.30,342.34 L1048.32,337.40 L1051.34,329.34 L1054.37,319.75 L1057.39,307.57 L1060.41,295.32 L1063.43,282.58 L1066.45,268.35 L1069.48,246.33 L1072.50,219.36 L1075.52,194.39 L1078.54,176.31 L1081.56,166.68 L1084.59,160.45 L1087.61,156.90 L1090.63,153.48 L1093.65,151.68 L1096.68,153.53 L1099.70,157.51 L1102.72,161.21 L1105.74,164.19 L1108.76,166.21 L1111.79,174.14 L1114.81,185.32 L1117.83,197.50 L1120.85,209.91 L1123.88,220.37 L1126.90,227.06 L1129.92,230.30 L1132.94,231.12 L1135.96,233.17 L1138.99,235.16 L1142.01,241.42 L1145.03,250.97 L1148.05,264.30 L1151.08,277.36 L1154.10,289.71 L1157.12,300.90 L1160.14,312.94 L1163.16,322.36 L1166.19,329.55 L1169.21,341.45 L1172.23,357.26 L1175.25,375.68 L1178.28,394.60 L1181.30,411.86 L1184.32,428.31 L1187.34,440.69 L1190.36,447.52 L1193.39,451.33 L1196.41,452.75 L1199.43,453.07 L1202.45,453.72 L1205.48,455.02 L1208.50,457.09 L1211.52,459.54 L1214.54,461.97 L1217.56,463.88 L1220.59,466.76 L1223.61,463.03 L1226.63,452.40 L1229.65,438.02 L1232.67,424.90 L1235.70,410.55 L1238.72,397.24 L1241.74,385.33 L1244.76,375.12 L1247.79,366.25 L1250.81,358.61 L1253.83,353.40 L1256.85,351.17 L1259.87,350.32 L1262.90,348.14 L1265.92,346.55 L1268.94,344.64 L1271.96,347.28 L1274.99,353.55 L1278.01,361.92 L1281.03,372.65 L1284.05,385.48 L1287.07,399.35 L1290.10,412.65 L1293.12,423.49 L1296.14,433.44 L1299.16,438.63 L1302.19,441.31 L1305.21,441.76 L1308.23,441.89 L1311.25,440.91 L1314.27,438.39 L1317.30,435.87 L1320.32,434.38 L1323.34,432.91 L1326.36,429.90 L1329.39,426.52 L1332.41,423.79 L1335.43,423.07 L1338.45,422.22 L1341.47,421.66 L1344.50,423.72 L1347.52,427.72 L1350.54,432.34 L1353.56,437.54 L1356.59,442.24 L1359.61,445.23 L1362.63,446.71 L1365.65,447.98 L1368.67,449.23 L1371.70,450.64 L1374.72,451.72 L1377.74,450.72 L1380.76,449.53 L1383.78,448.27 L1386.81,446.64 L1389.83,445.18 L1392.85,444.75 L1395.87,445.26 L1398.90,443.07 L1401.92,441.16 L1404.94,440.24 L1407.96,439.83 L1410.98,440.59 L1414.01,440.34 L1417.03,439.42 L1420.05,438.03 L1423.07,436.81 L1426.10,434.46 L1429.12,430.24 L1432.14,424.90 L1435.16,419.24 L1438.18,413.50 L1441.21,407.23 L1444.23,400.78 L1447.25,394.98 L1450.27,390.89 L1453.30,388.90 L1456.32,388.30 L1459.34,389.70 L1462.36,392.27 L1465.38,395.37 L1468.41,397.49 L1471.43,397.63 L1474.45,397.17" fill="none" stroke="#ff6d00" stroke-width="1.35" stroke-linejoin="round"/>
<path d="M11.71,408.19 L14.73,411.04 L17.75,411.03 L20.77,412.37 L23.79,417.46 L26.82,427.46 L29.84,431.51 L32.86,438.45 L35.88,440.75 L38.91,441.30 L41.93,444.50 L44.95,453.31 L47.97,461.40 L50.99,459.48 L54.02,458.27 L57.04,458.28 L60.06,457.15 L63.08,459.81 L66.11,456.08 L69.13,451.23 L72.15,448.88 L75.17,443.21 L78.19,438.93 L81.22,444.14 L84.24,451.34 L87.26,455.34 L90.28,454.67 L93.31,453.56 L96.33,452.04 L99.35,453.66 L102.37,459.87 L105.39,468.18 L108.42,477.88 L111.44,484.44 L114.46,489.71 L117.48,503.76 L120.51,512.27 L123.53,509.55 L126.55,503.70 L129.57,495.88 L132.59,490.73 L135.62,487.03 L138.64,475.06 L141.66,451.93 L144.68,433.64 L147.71,417.70 L150.73,402.48 L153.75,391.99 L156.77,383.94 L159.79,374.49 L162.82,369.47 L165.84,365.81 L168.86,363.99 L171.88,369.75 L174.90,373.26 L177.93,376.87 L180.95,377.63 L183.97,378.04 L186.99,382.80 L190.02,391.81 L193.04,397.68 L196.06,403.27 L199.08,404.41 L202.10,407.93 L205.13,410.17 L208.15,410.81 L211.17,414.30 L214.19,411.26 L217.22,409.54 L220.24,405.79 L223.26,403.53 L226.28,399.77 L229.30,395.99 L232.33,392.25 L235.35,390.48 L238.37,389.89 L241.39,387.64 L244.42,389.96 L247.44,391.00 L250.46,381.86 L253.48,379.00 L256.50,378.13 L259.53,377.76 L262.55,376.37 L265.57,364.84 L268.59,363.73 L271.62,364.88 L274.64,367.25 L277.66,371.72 L280.68,383.60 L283.70,395.84 L286.73,404.25 L289.75,407.77 L292.77,401.31 L295.79,399.77 L298.81,387.53 L301.84,369.12 L304.86,360.00 L307.88,351.84 L310.90,335.79 L313.93,325.38 L316.95,327.42 L319.97,322.76 L322.99,319.89 L326.01,320.30 L329.04,327.98 L332.06,333.99 L335.08,345.25 L338.10,355.77 L341.13,362.36 L344.15,364.03 L347.17,366.08 L350.19,368.14 L353.21,370.92 L356.24,373.61 L359.26,375.58 L362.28,377.58 L365.30,378.81 L368.33,377.60 L371.35,374.20 L374.37,370.63 L377.39,368.27 L380.41,364.66 L383.44,361.20 L386.46,360.95 L389.48,361.71 L392.50,365.08 L395.53,367.30 L398.55,371.81 L401.57,373.86 L404.59,372.54 L407.61,372.81 L410.64,369.11 L413.66,366.83 L416.68,367.16 L419.70,360.87 L422.73,350.91 L425.75,342.31 L428.77,328.61 L431.79,319.65 L434.81,313.93 L437.84,306.17 L440.86,299.30 L443.88,295.84 L446.90,281.65 L449.93,260.43 L452.95,238.56 L455.97,218.36 L458.99,188.66 L462.01,163.63 L465.04,142.92 L468.06,146.15 L471.08,142.23 L474.10,147.34 L477.12,152.02 L480.15,171.94 L483.17,183.56 L486.19,193.65 L489.21,199.05 L492.24,194.33 L495.26,198.05 L498.28,196.43 L501.30,196.50 L504.32,201.74 L507.35,196.56 L510.37,193.21 L513.39,201.02 L516.41,215.17 L519.44,229.03 L522.46,240.22 L525.48,259.54 L528.50,274.74 L531.52,284.26 L534.55,294.50 L537.57,304.96 L540.59,301.65 L543.61,303.12 L546.64,301.57 L549.66,301.42 L552.68,299.85 L555.70,292.97 L558.72,287.42 L561.75,294.34 L564.77,285.72 L567.79,258.48 L570.81,245.57 L573.84,238.26 L576.86,223.26 L579.88,192.21 L582.90,174.69 L585.92,165.13 L588.95,173.50 L591.97,185.33 L594.99,196.75 L598.01,204.00 L601.04,211.50 L604.06,221.83 L607.08,230.86 L610.10,237.75 L613.12,243.03 L616.15,241.75 L619.17,241.39 L622.19,239.15 L625.21,229.56 L628.23,223.13 L631.26,226.72 L634.28,227.16 L637.30,214.91 L640.32,199.96 L643.35,188.27 L646.37,198.90 L649.39,203.02 L652.41,210.18 L655.43,225.57 L658.46,234.98 L661.48,243.62 L664.50,253.55 L667.52,249.46 L670.55,258.60 L673.57,273.06 L676.59,290.13 L679.61,317.97 L682.63,351.79 L685.66,376.34 L688.68,396.32 L691.70,424.76 L694.72,433.71 L697.75,436.99 L700.77,441.51 L703.79,450.33 L706.81,461.17 L709.83,465.10 L712.86,467.31 L715.88,476.85 L718.90,479.53 L721.92,468.78 L724.95,455.11 L727.97,445.22 L730.99,436.07 L734.01,422.10 L737.03,413.28 L740.06,410.60 L743.08,404.18 L746.10,400.80 L749.12,397.99 L752.15,396.40 L755.17,393.49 L758.19,387.48 L761.21,377.88 L764.23,372.22 L767.26,372.34 L770.28,384.00 L773.30,397.36 L776.32,410.11 L779.34,419.23 L782.37,420.05 L785.39,424.94 L788.41,436.79 L791.43,446.45 L794.46,451.64 L797.48,452.30 L800.50,455.97 L803.52,469.22 L806.54,469.83 L809.57,475.89 L812.59,478.49 L815.61,471.87 L818.63,463.22 L821.66,457.04 L824.68,460.02 L827.70,467.79 L830.72,478.00 L833.74,487.67 L836.77,499.69 L839.79,505.94 L842.81,506.21 L845.83,507.18 L848.86,513.92 L851.88,514.17 L854.90,513.19 L857.92,513.87 L860.94,520.97 L863.97,527.83 L866.99,529.51 L870.01,520.50 L873.03,507.76 L876.06,495.20 L879.08,483.51 L882.10,474.14 L885.12,464.55 L888.14,450.98 L891.17,437.04 L894.19,426.43 L897.21,415.21 L900.23,405.76 L903.26,392.67 L906.28,386.71 L909.30,386.77 L912.32,379.24 L915.34,387.79 L918.37,395.91 L921.39,399.29 L924.41,408.87 L927.43,408.43 L930.45,407.29 L933.48,399.49 L936.50,392.42 L939.52,387.17 L942.54,386.22 L945.57,382.42 L948.59,365.21 L951.61,355.31 L954.63,344.74 L957.65,326.80 L960.68,308.17 L963.70,294.11 L966.72,283.78 L969.74,284.30 L972.77,278.19 L975.79,277.78 L978.81,276.71 L981.83,271.00 L984.85,268.90 L987.88,268.15 L990.90,264.14 L993.92,268.19 L996.94,262.18 L999.97,274.03 L1002.99,287.27 L1006.01,291.88 L1009.03,294.99 L1012.05,299.88 L1015.08,292.95 L1018.10,296.05 L1021.12,309.49 L1024.14,317.95 L1027.17,331.35 L1030.19,348.78 L1033.21,357.69 L1036.23,365.29 L1039.25,375.05 L1042.28,361.69 L1045.30,334.81 L1048.32,317.62 L1051.34,297.08 L1054.37,281.42 L1057.39,258.81 L1060.41,246.32 L1063.43,231.61 L1066.45,211.45 L1069.48,158.25 L1072.50,111.48 L1075.52,94.51 L1078.54,104.00 L1081.56,128.16 L1084.59,135.54 L1087.61,142.68 L1090.63,139.79 L1093.65,144.48 L1096.68,160.94 L1099.70,173.41 L1102.72,176.02 L1105.74,176.13 L1108.76,174.27 L1111.79,205.87 L1114.81,230.04 L1117.83,246.21 L1120.85,259.55 L1123.88,262.21 L1126.90,253.81 L1129.92,243.25 L1132.94,234.43 L1135.96,241.35 L1138.99,243.15 L1142.01,266.42 L1145.03,289.17 L1148.05,317.64 L1151.08,329.59 L1154.10,339.12 L1157.12,345.67 L1160.14,361.07 L1163.16,360.05 L1166.19,358.33 L1169.21,389.05 L1172.23,420.46 L1175.25,449.40 L1178.28,470.27 L1181.30,480.90 L1184.32,494.09 L1187.34,490.23 L1190.36,474.85 L1193.39,466.57 L1196.41,458.41 L1199.43,454.38 L1202.45,456.31 L1205.48,460.21 L1208.50,465.37 L1211.52,469.33 L1214.54,471.70 L1217.56,471.53 L1220.59,478.29 L1223.61,448.12 L1226.63,409.84 L1229.65,380.50 L1232.67,372.41 L1235.70,353.19 L1238.72,343.98 L1241.74,337.69 L1244.76,334.30 L1247.79,330.75 L1250.81,328.06 L1253.83,332.54 L1256.85,342.26 L1259.87,346.91 L1262.90,339.44 L1265.92,340.17 L1268.94,337.03 L1271.96,357.83 L1274.99,378.63 L1278.01,395.41 L1281.03,415.55 L1284.05,436.83 L1287.07,454.79 L1290.10,465.89 L1293.12,466.81 L1296.14,473.28 L1299.16,459.37 L1302.19,452.02 L1305.21,443.58 L1308.23,442.41 L1311.25,437.00 L1314.27,428.31 L1317.30,425.76 L1320.32,428.43 L1323.34,427.01 L1326.36,417.88 L1329.39,413.01 L1332.41,412.84 L1335.43,420.23 L1338.45,418.81 L1341.47,419.39 L1344.50,431.98 L1347.52,443.73 L1350.54,450.82 L1353.56,458.32 L1356.59,461.03 L1359.61,457.20 L1362.63,452.63 L1365.65,453.08 L1368.67,454.23 L1371.70,456.27 L1374.72,456.04 L1377.74,446.72 L1380.76,444.75 L1383.78,443.26 L1386.81,440.11 L1389.83,439.36 L1392.85,443.03 L1395.87,447.27 L1398.90,434.31 L1401.92,433.54 L1404.94,436.55 L1407.96,438.21 L1410.98,443.64 L1414.01,439.32 L1417.03,435.76 L1420.05,432.48 L1423.07,431.90 L1426.10,425.07 L1429.12,413.34 L1432.14,403.54 L1435.16,396.60 L1438.18,390.53 L1441.21,382.17 L1444.23,374.98 L1447.25,371.80 L1450.27,374.49 L1453.30,380.93 L1456.32,385.92 L1459.34,395.32 L1462.36,402.53 L1465.38,407.79 L1468.41,405.94 L1471.43,398.20 L1474.45,395.33" fill="none" stroke="#2962ff" stroke-width="1.35" stroke-linejoin="round"/>
<g font-size="13.6" fill="#131722">
<text x="19.4" y="51.9" textLength="124" lengthAdjust="spacingAndGlyphs">MACD (12, 26, close)</text>
<text x="150.2" y="51.9" fill="#22ab94" textLength="40.4" lengthAdjust="spacingAndGlyphs">0.0002</text>
<text x="199" y="51.9" fill="#2962ff" textLength="45.6" lengthAdjust="spacingAndGlyphs">−0.0025</text>
<text x="253.2" y="51.9" fill="#ff6d00" textLength="46.2" lengthAdjust="spacingAndGlyphs">−0.0027</text>
</g>
<g font-size="13.8" fill="#131722"><text x="1529.4" y="62.4" textLength="41.2" lengthAdjust="spacingAndGlyphs">0.0500</text><text x="1529.4" y="127.4" textLength="41.2" lengthAdjust="spacingAndGlyphs">0.0400</text><text x="1529.4" y="191.4" textLength="41.2" lengthAdjust="spacingAndGlyphs">0.0300</text><text x="1529.4" y="256.4" textLength="41.2" lengthAdjust="spacingAndGlyphs">0.0200</text><text x="1529.4" y="320.4" textLength="41.2" lengthAdjust="spacingAndGlyphs">0.0100</text><text x="1530.5" y="450.4" textLength="46.8" lengthAdjust="spacingAndGlyphs">−0.0100</text><text x="1530.5" y="514.4" textLength="46.8" lengthAdjust="spacingAndGlyphs">−0.0200</text><text x="1530.5" y="579.4" textLength="46.8" lengthAdjust="spacingAndGlyphs">−0.0300</text><text x="1530.5" y="643.4" textLength="46.8" lengthAdjust="spacingAndGlyphs">−0.0400</text></g>
<g font-size="12.7" fill="#131722"><text x="72.5" y="701.8" text-anchor="middle" textLength="13.5" lengthAdjust="spacingAndGlyphs">20</text><text x="145.0" y="701.8" text-anchor="middle" textLength="13.5" lengthAdjust="spacingAndGlyphs">24</text><text x="271.9" y="701.8" text-anchor="middle" font-weight="bold" font-size="12.5" textLength="18.8" lengthAdjust="spacingAndGlyphs">Jul</text><text x="344.4" y="701.8" text-anchor="middle" textLength="7.0" lengthAdjust="spacingAndGlyphs">5</text><text x="417.0" y="701.8" text-anchor="middle" textLength="7.0" lengthAdjust="spacingAndGlyphs">9</text><text x="489.5" y="701.8" text-anchor="middle" textLength="13.5" lengthAdjust="spacingAndGlyphs">13</text><text x="562.0" y="701.8" text-anchor="middle" textLength="13.5" lengthAdjust="spacingAndGlyphs">17</text><text x="634.5" y="701.8" text-anchor="middle" textLength="13.5" lengthAdjust="spacingAndGlyphs">21</text><text x="707.0" y="701.8" text-anchor="middle" textLength="13.5" lengthAdjust="spacingAndGlyphs">25</text><text x="834.0" y="701.8" text-anchor="middle" font-weight="bold" font-size="12.5" textLength="23.0" lengthAdjust="spacingAndGlyphs">Aug</text><text x="906.5" y="701.8" text-anchor="middle" textLength="7.0" lengthAdjust="spacingAndGlyphs">5</text><text x="979.0" y="701.8" text-anchor="middle" textLength="7.0" lengthAdjust="spacingAndGlyphs">9</text><text x="1051.5" y="701.8" text-anchor="middle" textLength="13.5" lengthAdjust="spacingAndGlyphs">13</text><text x="1124.0" y="701.8" text-anchor="middle" textLength="13.5" lengthAdjust="spacingAndGlyphs">17</text><text x="1196.6" y="701.8" text-anchor="middle" textLength="13.5" lengthAdjust="spacingAndGlyphs">21</text><text x="1269.1" y="701.8" text-anchor="middle" textLength="13.5" lengthAdjust="spacingAndGlyphs">25</text><text x="1396.0" y="701.8" text-anchor="middle" font-weight="bold" font-size="12.5" textLength="22.5" lengthAdjust="spacingAndGlyphs">Sep</text><text x="1468.5" y="701.8" text-anchor="middle" textLength="7.0" lengthAdjust="spacingAndGlyphs">5</text></g>
<ellipse cx="1576" cy="379" rx="2" ry="4" fill="#6b6b6b" opacity="0.6"/>
<path d="M1521.5,370 h52.5 a2,2 0 0 1 2,2 v14 a2,2 0 0 1 -2,2 h-52.5 z" fill="#26a69a"/>
<path d="M1521.5,388.3 h60 a2,2 0 0 1 2,2 v14.4 a2,2 0 0 1 -2,2 h-60 z" fill="#2962ff"/>
<path d="M1521.5,407.7 h60 a2,2 0 0 1 2,2 v14.5 a2,2 0 0 1 -2,2 h-60 z" fill="#ff6d00"/>
<g font-size="13.8" fill="#ffffff">
<text x="1529.9" y="384.1" textLength="41.2" lengthAdjust="spacingAndGlyphs">0.0002</text>
<text x="1530.9" y="402.6" textLength="47" lengthAdjust="spacingAndGlyphs">−0.0025</text>
<text x="1530.9" y="422.1" textLength="47" lengthAdjust="spacingAndGlyphs">−0.0027</text>
</g>
<g fill="#131722">
<path d="M13.6,737 H26.8 V753.3 H20.2 V743.6 H13.6 Z"/>
<circle cx="32.4" cy="740.2" r="3.1"/>
<path d="M39.25,737 H46.4 L39.9,753.3 H33 Z"/>
<text x="55" y="753.3" font-size="22.5" font-weight="bold">TradingView</text>
</g>
</svg>
</body></html>
